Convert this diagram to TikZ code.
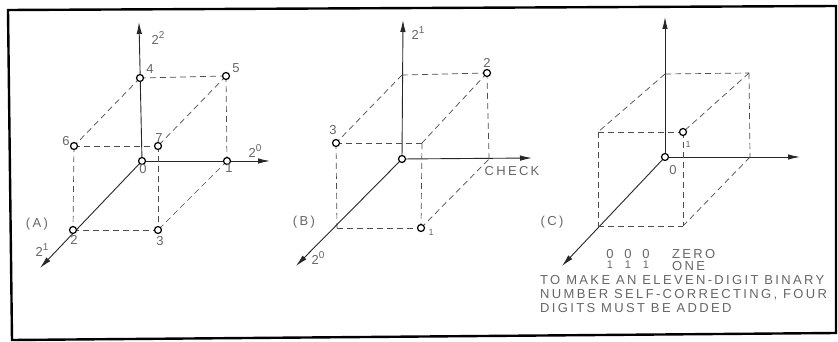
\documentclass[tikz,border=0pt]{standalone}
\usepackage{fontspec}
\setmainfont{Liberation Sans}[LetterSpace=18]
\usetikzlibrary{arrows.meta, positioning, calc, backgrounds}
\newcommand{\pwtwo}[1]{2\raisebox{0.42em}{\fontsize{10}{10}\selectfont #1}}

\begin{document}
\begin{tikzpicture}[
  x=1pt, y=-1pt,
  font=\fontsize{13}{14}\selectfont,
  vtx/.style={circle, draw=black, line width=1.2pt, fill=white,
              inner sep=0pt, minimum size=7pt},
  lbl/.style={text=black!60, inner sep=1pt},
  sublbl/.style={text=black!60, inner sep=1pt, font=\fontsize{9}{9}\selectfont},
  axisarr/.style={draw=black!85, line width=0.9pt, -{Latex[length=12pt, width=5.5pt]}},
  hid/.style={draw=black!70, line width=0.7pt, dash pattern=on 6pt off 4pt},
  border/.style={draw=black, line width=2.4pt, line join=miter}
]
\useasboundingbox (0,0) rectangle (838,342);
%% outer frame
\draw[border] (8,10) -- (836,6) -- (836,333) -- (12,340) -- cycle;

%% ---------- panel A ----------
\node[vtx] (a0) at (142,161) {};
\node[vtx] (a1) at (227,161) {};
\node[vtx] (a2) at (73,230)  {};
\node[vtx] (a3) at (158,230) {};
\node[vtx] (a4) at (140,78)  {};
\node[vtx] (a5) at (226,76)  {};
\node[vtx] (a6) at (74,146)  {};
\node[vtx] (a7) at (158,146) {};
\coordinate (a_x) at (270,161);
\coordinate (a_z) at (139,22);
\coordinate (a_y) at (40,268);
\node[lbl] at (158,38)  {\pwtwo{2}};
\node[lbl] at (150,69)  {4};
\node[lbl] at (236,68)  {5};
\node[lbl] at (66,141)  {6};
\node[lbl] at (159,138) {7};
\node[lbl] at (143,169) {0};
\node[lbl] at (229,168) {1};
\node[lbl] at (255,151) {\pwtwo{0}};
\node[lbl] at (74,240)  {2};
\node[lbl] at (160,241) {3};
\node[lbl] at (42,250)  {\pwtwo{1}};
\node[lbl] at (37,224)  {(A)};

%% ---------- panel B ----------
\node[vtx] (b0) at (402,159) {};
\node[vtx] (b1) at (421,228) {};
\node[vtx] (b2) at (487,73)  {};
\node[vtx] (b3) at (336,143) {};
\coordinate (b_xc) at (489,159);
\coordinate (b_zc) at (402,75);
\coordinate (b_ft) at (422,143);
\coordinate (b_fl) at (337,228);
\coordinate (b_x) at (532,158);
\coordinate (b_z) at (403,20);
\coordinate (b_y) at (296,266);
\node[lbl] at (418,33)  {\pwtwo{1}};
\node[lbl] at (487,63)  {2};
\node[lbl] at (333,130) {3};
\node[lbl] at (512,171) {CHECK};
\node[sublbl] at (431,232) {1};
\node[lbl] at (304,222) {(B)};
\node[lbl] at (318,258) {\pwtwo{0}};

%% ---------- panel C ----------
\node[vtx] (c0) at (665,157) {};
\node[vtx] (c1) at (683,132) {};
\coordinate (c_xc) at (750,157);
\coordinate (c_zc) at (665,74);
\coordinate (c_bt) at (749,73);
\coordinate (c_ft) at (598,132);
\coordinate (c_fl) at (598,226);
\coordinate (c_fr) at (683,226);
\coordinate (c_x) at (800,157);
\coordinate (c_z) at (665,17);
\coordinate (c_y) at (562,266);
\node[lbl] at (673,170) {0};
\node[sublbl] at (688,144) {1};
\node[lbl] at (552,222) {(C)};
\foreach \xx in {610,628,646} {
  \node[lbl] at (\xx,254) {0};
  \node[lbl, font=\fontsize{11}{11}\selectfont] at (\xx,265) {1};
}
\node[lbl, anchor=west] at (671,254) {ZERO};
\node[lbl, anchor=west] at (671,266) {ONE};
\node[lbl, anchor=north west, align=left] at (539,274)
  {TO MAKE AN ELEVEN-DIGIT BINARY\\NUMBER SELF-CORRECTING, FOUR\\DIGITS MUST BE ADDED};

%% ---------- lines behind the vertices ----------
\begin{pgfonlayer}{background}
  %% A
  \draw[axisarr] (a0.center) -- (a_x);
  \draw[axisarr] (a0.center) -- (a_z);
  \draw[axisarr] (a0.center) -- (a_y);
  \draw[hid] (a4.center) -- (a5.center);
  \draw[hid] (a5.center) -- (a1.center);
  \draw[hid] (a4.center) -- (a6.center);
  \draw[hid] (a6.center) -- (a7.center);
  \draw[hid] (a5.center) -- (a7.center);
  \draw[hid] (a6.center) -- (a2.center);
  \draw[hid] (a7.center) -- (a3.center);
  \draw[hid] (a2.center) -- (a3.center);
  \draw[hid] (a1.center) -- (a3.center);
  %% B
  \draw[axisarr] (b0.center) -- (b_x);
  \draw[axisarr] (b0.center) -- (b_z);
  \draw[axisarr] (b0.center) -- (b_y);
  \draw[hid] (b_zc) -- (b2.center);
  \draw[hid] (b2.center) -- (b_xc);
  \draw[hid] (b_zc) -- (b3.center);
  \draw[hid] (b3.center) -- (b_ft);
  \draw[hid] (b2.center) -- (b_ft);
  \draw[hid] (b3.center) -- (b_fl);
  \draw[hid] (b_ft) -- (b1.center);
  \draw[hid] (b_fl) -- (b1.center);
  \draw[hid] (b1.center) -- (b_xc);
  %% C
  \draw[axisarr] (c0.center) -- (c_x);
  \draw[axisarr] (c0.center) -- (c_z);
  \draw[axisarr] (c0.center) -- (c_y);
  \draw[hid] (c_zc) -- (c_bt);
  \draw[hid] (c_bt) -- (c_xc);
  \draw[hid] (c_zc) -- (c_ft);
  \draw[hid] (c_ft) -- (c1.center);
  \draw[hid] (c_bt) -- (c1.center);
  \draw[hid] (c_ft) -- (c_fl);
  \draw[hid] (c1.center) -- (c_fr);
  \draw[hid] (c_fl) -- (c_fr);
  \draw[hid] (c_fr) -- (c_xc);
\end{pgfonlayer}
\end{tikzpicture}
\end{document}
